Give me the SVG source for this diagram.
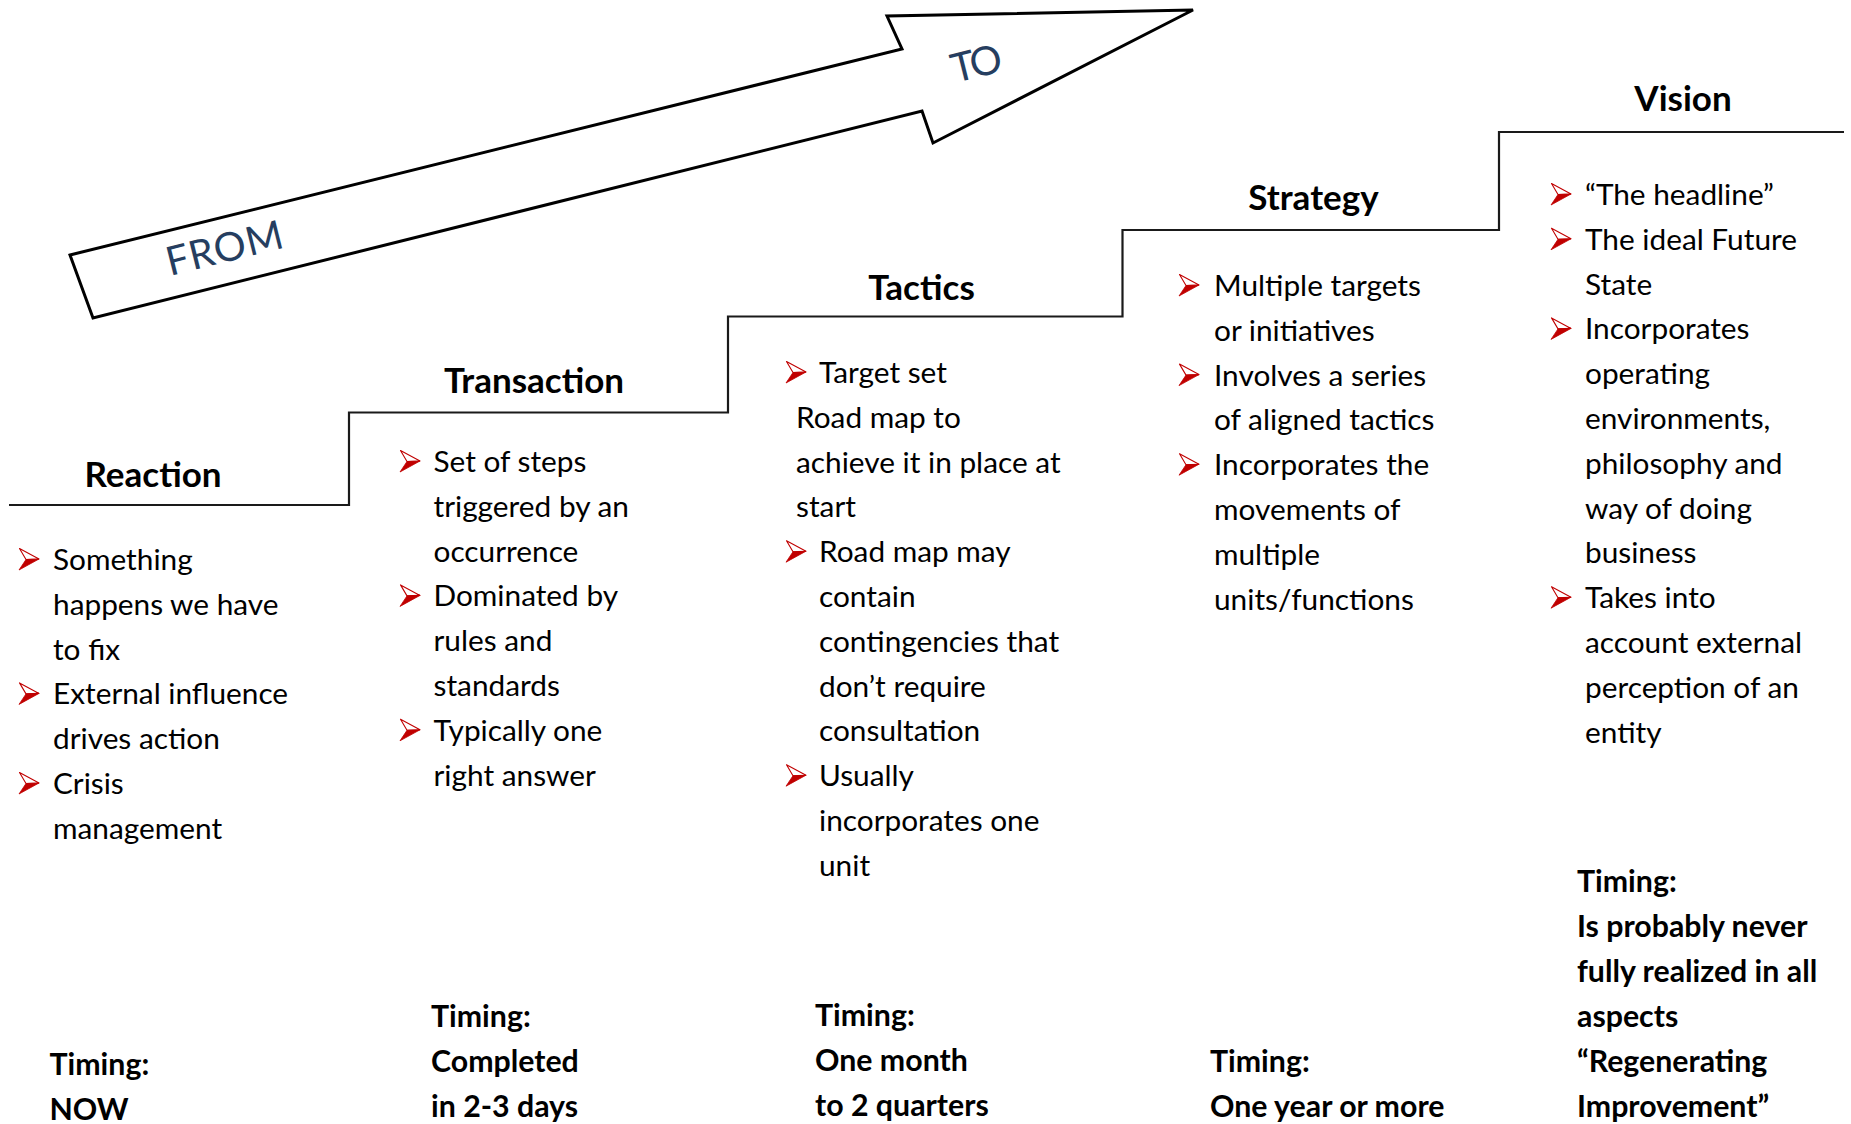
<svg xmlns="http://www.w3.org/2000/svg" xmlns:xlink="http://www.w3.org/1999/xlink" width="1851" height="1124" viewBox="0 0 1851 1124">
  <style>
    .body { font-family: Lato, "Liberation Sans", sans-serif; font-size: 29.8px; fill: #000; }
    .head { font-family: Lato, "Liberation Sans", sans-serif; font-size: 35px; font-weight: bold; fill: #000; text-anchor: middle; }
    .timing { font-family: Lato, "Liberation Sans", sans-serif; font-size: 30.3px; font-weight: bold; fill: #000; }
    .arrowlabel { font-family: Lato, "Liberation Sans", sans-serif; font-size: 40px; fill: #263E60; }
    .steps { fill: none; stroke: #1a1a1a; stroke-width: 2.2; }
    .bigarrow { fill: #fff; stroke: #000; stroke-width: 3; stroke-linejoin: miter; }
  </style>
  <defs>
    <!-- red 3D arrowhead bullet, origin at its top-left corner -->
    <g id="bullet">
      <path d="M0.5,0.5 L20,11 L7,11.5 Z" fill="#fff" stroke="#C00000" stroke-width="1.1" stroke-linejoin="round"/>
      <path d="M7,11.5 L20,11 L0,22 Z" fill="#C00000" stroke="#C00000" stroke-width="0.8" stroke-linejoin="round"/>
    </g>
  </defs>
  <rect width="1851" height="1124" fill="#fff"/>

  <!-- FROM / TO arrow -->
  <g id="direction-arrow">
    <path class="bigarrow" d="M70,255 L902,49 L887,16 L1193,10 L933,143 L922,111 L93,318 Z"/>
    <text class="arrowlabel" transform="translate(170,276) rotate(-14)" textLength="119" lengthAdjust="spacing">FROM</text>
    <text class="arrowlabel" transform="translate(955,83) rotate(-14)" textLength="51" lengthAdjust="spacing">TO</text>
  </g>

  <!-- staircase line -->
  <g id="connectors">
    <path class="steps" d="M9,505 H349 V412.5 H728 V316.5 H1122.5 V230 H1499 V132 H1844"/>
  </g>

  <!-- Reaction -->
  <g id="reaction">
    <text class="head" x="153" y="487">Reaction</text>
    <use xlink:href="#bullet" x="19" y="548"/>
    <use xlink:href="#bullet" x="19" y="682.4"/>
    <use xlink:href="#bullet" x="19" y="772"/>
    <text class="body">
      <tspan x="53" y="570">Something</tspan>
      <tspan x="53" y="614.8">happens we have</tspan>
      <tspan x="53" y="659.6">to fix</tspan>
      <tspan x="53" y="704.4">External influence</tspan>
      <tspan x="53" y="749.2">drives action</tspan>
      <tspan x="53" y="794">Crisis</tspan>
      <tspan x="53" y="838.8">management</tspan>
    </text>
    <text class="timing">
      <tspan x="49.5" y="1075">Timing:</tspan>
      <tspan x="49.5" y="1120">NOW</tspan>
    </text>
  </g>

  <!-- Transaction -->
  <g id="transaction">
    <text class="head" x="534" y="393">Transaction</text>
    <use xlink:href="#bullet" x="400" y="450"/>
    <use xlink:href="#bullet" x="400" y="584.4"/>
    <use xlink:href="#bullet" x="400" y="718.8"/>
    <text class="body">
      <tspan x="433.5" y="472">Set of steps</tspan>
      <tspan x="433.5" y="516.8">triggered by an</tspan>
      <tspan x="433.5" y="561.6">occurrence</tspan>
      <tspan x="433.5" y="606.4">Dominated by</tspan>
      <tspan x="433.5" y="651.2">rules and</tspan>
      <tspan x="433.5" y="696">standards</tspan>
      <tspan x="433.5" y="740.8">Typically one</tspan>
      <tspan x="433.5" y="785.6">right answer</tspan>
    </text>
    <text class="timing">
      <tspan x="431" y="1026.5">Timing:</tspan>
      <tspan x="431" y="1071.5">Completed</tspan>
      <tspan x="431" y="1116.5">in 2-3 days</tspan>
    </text>
  </g>

  <!-- Tactics -->
  <g id="tactics">
    <text class="head" x="921.5" y="300">Tactics</text>
    <use xlink:href="#bullet" x="786" y="361"/>
    <use xlink:href="#bullet" x="786" y="540.2"/>
    <use xlink:href="#bullet" x="786" y="764.2"/>
    <text class="body">
      <tspan x="819" y="383">Target set</tspan>
      <tspan x="796" y="427.8">Road map to</tspan>
      <tspan x="796" y="472.6">achieve it in place at</tspan>
      <tspan x="796" y="517.4">start</tspan>
      <tspan x="819" y="562.2">Road map may</tspan>
      <tspan x="819" y="607">contain</tspan>
      <tspan x="819" y="651.8">contingencies that</tspan>
      <tspan x="819" y="696.6">don’t require</tspan>
      <tspan x="819" y="741.4">consultation</tspan>
      <tspan x="819" y="786.2">Usually</tspan>
      <tspan x="819" y="831">incorporates one</tspan>
      <tspan x="819" y="875.8">unit</tspan>
    </text>
    <text class="timing">
      <tspan x="815" y="1026">Timing:</tspan>
      <tspan x="815" y="1071">One month</tspan>
      <tspan x="815" y="1116">to 2 quarters</tspan>
    </text>
  </g>

  <!-- Strategy -->
  <g id="strategy">
    <text class="head" x="1313.5" y="210">Strategy</text>
    <use xlink:href="#bullet" x="1179" y="274"/>
    <use xlink:href="#bullet" x="1179" y="363.6"/>
    <use xlink:href="#bullet" x="1179" y="453.2"/>
    <text class="body">
      <tspan x="1214" y="296">Multiple targets</tspan>
      <tspan x="1214" y="340.8">or initiatives</tspan>
      <tspan x="1214" y="385.6">Involves a series</tspan>
      <tspan x="1214" y="430.4">of aligned tactics</tspan>
      <tspan x="1214" y="475.2">Incorporates the</tspan>
      <tspan x="1214" y="520">movements of</tspan>
      <tspan x="1214" y="564.8">multiple</tspan>
      <tspan x="1214" y="609.6">units/functions</tspan>
    </text>
    <text class="timing">
      <tspan x="1210" y="1072">Timing:</tspan>
      <tspan x="1210" y="1117">One year or more</tspan>
    </text>
  </g>

  <!-- Vision -->
  <g id="vision">
    <text class="head" x="1683" y="111">Vision</text>
    <use xlink:href="#bullet" x="1551" y="183"/>
    <use xlink:href="#bullet" x="1551" y="227.8"/>
    <use xlink:href="#bullet" x="1551" y="317.4"/>
    <use xlink:href="#bullet" x="1551" y="586.2"/>
    <text class="body">
      <tspan x="1585" y="205">“The headline”</tspan>
      <tspan x="1585" y="249.8">The ideal Future</tspan>
      <tspan x="1585" y="294.6">State</tspan>
      <tspan x="1585" y="339.4">Incorporates</tspan>
      <tspan x="1585" y="384.2">operating</tspan>
      <tspan x="1585" y="429">environments,</tspan>
      <tspan x="1585" y="473.8">philosophy and</tspan>
      <tspan x="1585" y="518.6">way of doing</tspan>
      <tspan x="1585" y="563.4">business</tspan>
      <tspan x="1585" y="608.2">Takes into</tspan>
      <tspan x="1585" y="653">account external</tspan>
      <tspan x="1585" y="697.8">perception of an</tspan>
      <tspan x="1585" y="742.6">entity</tspan>
    </text>
    <text class="timing">
      <tspan x="1577" y="892">Timing:</tspan>
      <tspan x="1577" y="937">Is probably never</tspan>
      <tspan x="1577" y="982">fully realized in all</tspan>
      <tspan x="1577" y="1027">aspects</tspan>
      <tspan x="1577" y="1072">“Regenerating</tspan>
      <tspan x="1577" y="1117">Improvement”</tspan>
    </text>
  </g>
</svg>
